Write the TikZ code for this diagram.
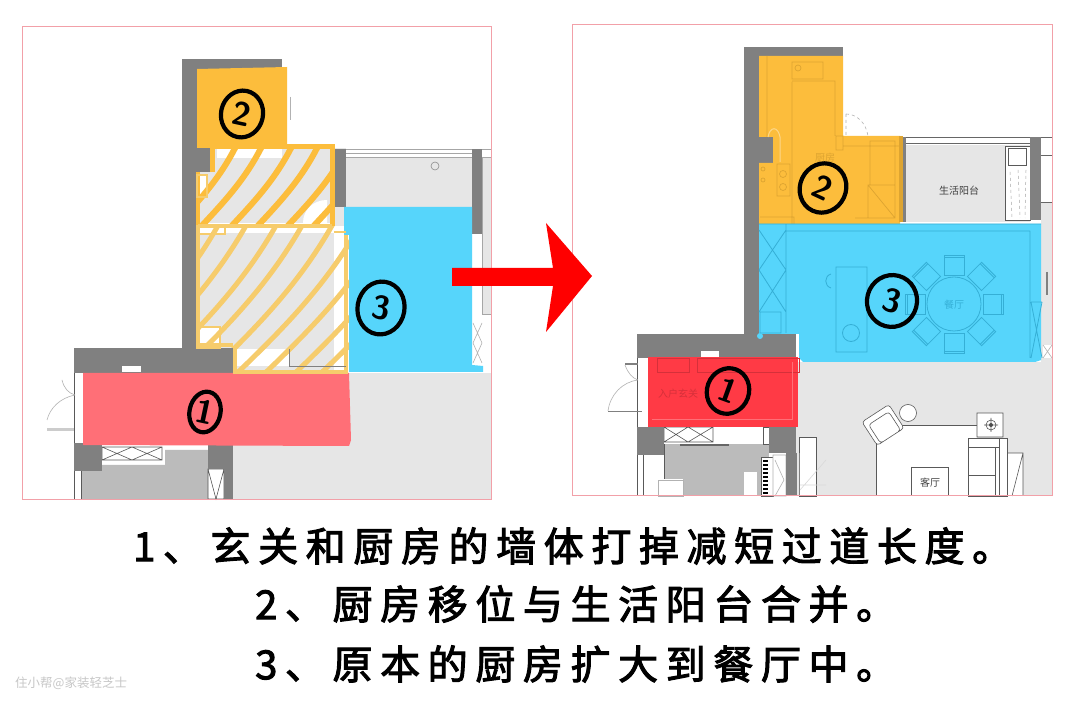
\documentclass[tikz,border=0pt]{standalone}
\usepackage{fontspec}
\usepackage{xcolor}
\usetikzlibrary{calc,shapes.geometric,positioning}
\newfontfamily\cjk[LetterSpace=19,FakeBold=2.5]{Noto Sans CJK SC}
\newfontfamily\cjkplain{Noto Sans CJK SC}
\definecolor{wallgray}{HTML}{808080}
\definecolor{floorgray}{HTML}{E6E6E6}
\definecolor{roomgray}{HTML}{BBBBBB}
\definecolor{framepink}{HTML}{F2A0A8}
\definecolor{kitchen}{HTML}{FCBD3C}
\definecolor{kitchenline}{HTML}{DDA431}
\definecolor{hatchlight}{HTML}{F6CC6C}
\definecolor{dining}{HTML}{56D5FB}
\definecolor{diningline}{HTML}{35AFD6}
\definecolor{hallpale}{HTML}{FF6F77}
\definecolor{hallred}{HTML}{FF3A45}
\definecolor{hallline}{HTML}{D5303A}
\tikzset{
  wall/.style={fill=wallgray,draw=none},
  framebox/.style={draw=framepink,line width=1pt},
  fineline/.style={draw=black!65,line width=.6pt},
  paleline/.style={draw=black!30,line width=.6pt},
  kitline/.style={draw=kitchenline,line width=.7pt},
  dinline/.style={draw=diningline,line width=.8pt},
  numbermark/.style={ellipse,draw=black,line width=4.2pt,inner sep=0pt,font=\sffamily\bfseries\fontsize{33}{33}\selectfont},
  captionline/.style={anchor=west,inner sep=0pt,font=\cjk\fontsize{40}{40}\selectfont},
  planlabel/.style={inner sep=0pt,text=black!75,font=\cjkplain\fontsize{10}{10}\selectfont},
}
\begin{document}
\begin{tikzpicture}[x=1pt,y=-1pt,line cap=butt,line join=miter]
\useasboundingbox (0,0) rectangle (1080,708);
\fill[white] (0,0) rectangle (1080,708);
% left plan
\fill[floorgray] (346,158) rectangle (472,207); \fill[floorgray] (233,373) rectangle (491,499); \fill[floorgray] (482,157) rectangle (491,314);
\fill[floorgray] (197,148) rectangle (346,373);
\fill[white] (197,223) rectangle (334,233); \fill[white] (233,349) rectangle (290,366); \fill[white] (334,226) rectangle (346,373); \fill[white] (217,149) rectangle (282,158);
\fill[white] (327,223) -- (303,223) .. controls (303,210) and (313,200) .. (327,200) -- cycle;
\fill[white] (197,175) rectangle (207,197); \fill[white] (197,327) rectangle (220,348);
\fill[roomgray] (81,465) -- (165,465) -- (165,450) -- (208,450) -- (208,499) -- (81,499) -- cycle;
\draw[fineline] (102,447) rectangle (162,460) (102,447) -- (132,460) -- (162,447) (102,460) -- (132,447) -- (162,460) (208,469) rectangle (224,499) (208,469) -- (216,499) -- (224,469);
\draw[fineline] (74,443) -- (74,373) (74,471) -- (74,499) (81,471) -- (81,499);
\draw[paleline] (75,395) .. controls (60,398) and (50,408) .. (47,420) (62,380) .. controls (64,388) and (68,393) .. (75,395); \draw[black!20,line width=3pt] (47,430) -- (74,430); \draw[paleline] (290,97) -- (290,120);
\draw[black!35,line width=.7pt] (346,149) -- (472,149) (346,153) -- (472,153) (346,157) -- (472,157) (482,149) -- (491,149) (482,157) -- (491,157) (482,157) -- (482,314) -- (491,314);
\draw[black!45,line width=.6pt] (435,166) circle[radius=4];
\draw[paleline] (473,323) -- (482,343) -- (473,363) (482,323) -- (473,343) -- (482,363);
\fill[wall] (182,59) rectangle (282,70); \fill[wall] (182,59) rectangle (197,348); \fill[wall] (197,148) rectangle (212,172); \fill[wall] (74,348) rectangle (233,373);
\fill[wall] (74,443) rectangle (102,471); \fill[wall] (208,443) rectangle (233,469); \fill[wall] (224,469) rectangle (233,499);
\fill[wall] (334,149) rectangle (346,207); \fill[wall] (472,149) rectangle (482,234);
\fill[white] (122,366) rectangle (141,372);
\fill[dining] (344,207) -- (472,207) -- (472,365) -- (483,366) -- (483,372) -- (349,372) -- (349,235) -- (344,235) -- cycle;
\fill[hallpale] (83,373) -- (349,373) -- (351,440) -- (349,446) -- (83,445) -- cycle;
\fill[kitchen] (197,69) -- (287,67) -- (287,148) -- (197,148) -- cycle;
% hatched kitchen
\begin{scope}
\clip (212,147) -- (334,147) -- (334,226) -- (197,226) -- (197,172) -- (212,172) -- cycle;
\foreach \hx in {140,170,196,226,252,282,308,336}{\draw[kitchen,line width=6pt] (\hx,232) .. controls (\hx+25,205) and (\hx+50,180) .. (\hx+68,142);}
\end{scope}
\begin{scope}
\clip (197,226) -- (349,226) -- (349,372) -- (233,372) -- (233,348) -- (197,348) -- cycle;
\foreach \hx in {90,118,148,174,204,232,260,290,316}{\draw[hatchlight,line width=5pt] (\hx,378) .. controls (\hx+50,330) and (\hx+95,285) .. (\hx+130,222);}
\end{scope}
\draw[kitchen,line width=5pt] (212,172) -- (212,147) -- (332,147) -- (332,226);
\draw[kitchen,line width=4pt] (198,172) -- (198,226);
\draw[hatchlight,line width=4pt] (198,226) -- (198,345) (198,226) -- (332,226) (346,235) -- (346,372) -- (235,372) -- (235,348) (198,345) -- (233,345);
\draw[hatchlight,line width=2pt] (197,226) rectangle (225,234) (334,232) -- (346,232) (197,327) rectangle (220,348) (197,175) rectangle (207,197);
\draw[black!50,line width=.5pt] (289,349) -- (289,366) -- (346,366);
\node[numbermark,minimum width=42pt,minimum height=47pt,rotate=-12] (leftTwo) at (242,114) {2};
\node[numbermark,minimum width=31pt,minimum height=41pt,rotate=-12] (leftOne) at (205,412) {1};
\node[numbermark,minimum width=47pt,minimum height=53pt,rotate=-10] (leftThree) at (381,308) {3};
% right plan
\fill[floorgray] (906,145) rectangle (1030,222); \fill[floorgray] (796,362) rectangle (1052,496); \fill[floorgray] (1041,202) rectangle (1052,362);
\draw[black!60,line width=.7pt] (906,137) -- (1030,137) (906,143) -- (1030,143) (1041,137) -- (1052,137) (1041,155) -- (1052,155) (1041,202) -- (1052,202);
\fill[white] (1005,146) rectangle (1030,220); \draw[fineline] (1005,146) rectangle (1030,220) (1008,148) rectangle (1026,165);
\draw[black!35,dashed,line width=.5pt] (1010,172) -- (1012,218) (1018,170) -- (1020,218) (1026,170) -- (1025,218);
\draw[black!50,line width=1.4pt] (1047,272) -- (1047,295);
\fill[white] (1043,345) rectangle (1052,358); \draw[paleline] (1043,345) -- (1052,358) (1052,345) -- (1043,358);
\node[planlabel] (balconyLabel) at (959,191) {生活阳台};
\fill[roomgray] (664,444) rectangle (769,496);
\draw[fineline] (664,427) rectangle (713,442) (664,427) -- (688,442) -- (713,427) (664,442) -- (688,427) -- (713,442);
\draw[black!60,line width=1.5pt] (680,445) -- (729,445);
\draw[fineline] (664,444) -- (664,496) (637,455) -- (637,496) (643,455) -- (643,496) (637,358) -- (637,427) (763,427) rectangle (769,444);
\fill[white] (744,472) rectangle (757,496); \fill[white] (664,479) rectangle (683,496); \draw[paleline] (658,480) rectangle (683,496);
\fill[white] (761,457) rectangle (773,496); \draw[fineline] (761,457) rectangle (773,496);
\foreach \ky in {460,464,...,494}{\fill[black] (763,\ky) rectangle (768,\ky+2);}
\fill[white] (773,455) rectangle (786,496); \draw[paleline] (773,455) rectangle (786,496) (775,460) -- (784,480) -- (775,496);
\fill[white] (799,437) rectangle (816,496); \draw[fineline] (799,437) rectangle (816,496); \draw[black!50,line width=1pt] (796,453) -- (796,496) (799,453) -- (799,496);
\draw[black!15,line width=.6pt] (800,490) -- (826,460) (800,485) -- (826,485);
\draw[paleline] (638,380) .. controls (622,382) and (610,395) .. (608,411) (625,365) .. controls (628,373) and (632,378) .. (638,380); \draw[black!50,line width=1.6pt] (608,411.5) -- (642,411.5) (625,364) -- (638,364);
% living room furniture
\fill[white] (876,425) -- (977,425) -- (977,496) -- (876,496) -- cycle; \draw[fineline] (876,496) -- (876,443) (895,425) -- (977,425);
\fill[white] (1007,453) rectangle (1023,496); \draw[fineline] (1007,453) -- (1023,453) -- (1023,496) (1023,453) -- (1012,496);
\fill[white] (968,438) rectangle (1007,496); \draw[fineline] (968,447) rectangle (999,496) (968,438) rectangle (999,447) (999,438) rectangle (1007,496) (968,475) -- (995,475) (995,447) -- (995,496);
\fill[white] (977,413) rectangle (1003,437); \draw[fineline] (977,413) rectangle (1003,437) (991,425) circle[radius=5] (991,418) -- (991,432) (984,425) -- (998,425);
\fill[black!70] (991,425) circle[radius=2];
\fill[white] (911,467) rectangle (948,496); \draw[fineline] (911,467) -- (911,496) (911,467) -- (948,467) -- (948,496);
\node[planlabel] (livingLabel) at (930,483) {客厅};
\begin{scope}[shift={(883,425)},rotate=33]
\fill[white,rounded corners=3pt] (-16,-14) rectangle (16,14); \draw[fineline,rounded corners=3pt] (-16,-14) rectangle (16,14) (-12,-8) rectangle (12,14);
\end{scope}
\draw[fineline,fill=white] (908,413) circle[radius=8.5];
% right plan walls
\fill[wall] (744,47) rectangle (843,56); \fill[wall] (744,47) rectangle (759,334); \fill[wall] (759,137) rectangle (773,163); \fill[wall] (637,334) rectangle (796,358);
\fill[wall] (637,427) rectangle (664,455); \fill[wall] (769,427) rectangle (796,453); \fill[wall] (786,453) rectangle (796,496);
\fill[wall] (899,137) rectangle (906,222); \fill[wall] (1030,137) rectangle (1041,220);
\fill[white] (701,351) rectangle (719,357);
% right kitchen
\fill[kitchen] (759,56) -- (843,56) -- (843,136) -- (900,136) -- (900,224) -- (759,224) -- (759,163) -- (773,163) -- (773,137) -- (759,137) -- cycle;
\draw[kitline] (767,56) -- (767,137) (792,82) -- (792,224) (792,81) -- (835,81) -- (835,136) (792,62) rectangle (823,79) (777,164) rectangle (790,196) (843,146) -- (900,146) (870,141) rectangle (895,185) (868,185) rectangle (895,218) (868,185) -- (895,218) (855,218) -- (888,218) (760,217) -- (794,217) -- (794,224) (836,136) rectangle (843,150);
\draw[kitline] (783,174) circle[radius=3.5] (783,187) circle[radius=3.5] (763,169) circle[radius=2] (763,180) circle[radius=2] (798,68) circle[radius=3];
\draw[kitchen!60!white,line width=1pt] (768,137) .. controls (770,126) and (778,126) .. (780,137) -- (780,162);
\fill[kitchenline] (899,136) rectangle (903,222);
\draw[paleline,dashed] (846,114) .. controls (856,114) and (866,122) .. (868,136) (846,114) -- (846,136);
\node[planlabel,text=kitchenline] (kitchenLabel) at (825,158) {厨房};
% right dining
\fill[white] (796,334) rectangle (799,358);
\fill[dining] (759,224) -- (1041,224) -- (1041,360) -- (1035,362) -- (803,362) -- (799,358) -- (799,334) -- (759,334) -- cycle;
\fill[dining] (760,336) circle[radius=3];
\draw[dinline] (759,224) -- (1041,224) (786,224) -- (786,333) (786,231) -- (1030,231) (1030,231) -- (1030,358) (760,312) rectangle (781,333) (759,230) -- (786,270) (786,230) -- (759,270) (759,270) -- (786,312) (786,270) -- (759,312) (1031,302) -- (1042,358) (1042,302) -- (1031,358) (1031,302) -- (1042,302);
\draw[dinline] (836,267) rectangle (867,352) (851,333) circle[radius=8.5] (954,304) circle[radius=27];
\foreach \ca in {0,45,...,315}{
\begin{scope}[shift={(954,304)},rotate=\ca]
\draw[dinline] (29,-10) rectangle (49,10) (47,-10) -- (47,10);
\end{scope}}
\draw[dinline] (831,274) .. controls (824,276) and (824,286) .. (831,288);
\node[planlabel,text=diningline] (diningLabel) at (954,305) {餐厅};
% right hall
\fill[hallred] (648,357) -- (798,357) -- (798,427) -- (648,427) -- cycle;
\draw[hallline,line width=.6pt] (657,358) rectangle (689,372) (697,358) rectangle (799,372);
\draw[hallpale,line width=.6pt] (652,419) -- (792,419) -- (792,362);
\node[planlabel,text=hallline] (hallLabel) at (678,394) {入户玄关};
\node[numbermark,minimum width=42pt,minimum height=46pt,rotate=-20] (rightOne) at (728,391) {1};
\node[numbermark,minimum width=46pt,minimum height=50pt,rotate=-25] (rightTwo) at (823,188) {2};
\node[numbermark,minimum width=50pt,minimum height=52pt,rotate=-15] (rightThree) at (892,301) {3};
% frames
\draw[framebox] (22,27) rectangle (491,500); \draw[framebox] (572,25) rectangle (1052,496);
% arrow
\fill[red] (452,268) -- (553,268) -- (546,223) -- (592,276) -- (546,332) -- (553,286) -- (452,286) -- cycle;
% captions
\node[captionline] (lineOne) at (133,546) {1、玄关和厨房的墙体打掉减短过道长度。};
\node[captionline] (lineTwo) at (255,604) {2、厨房移位与生活阳台合并。};
\node[captionline] (lineThree) at (255,664) {3、原本的厨房扩大到餐厅中。};
\node[inner sep=0pt,anchor=west,text=black!22,font=\cjkplain\fontsize{12.5}{12.5}\selectfont] (markText) at (15,683) {住小帮@家装轻芝士};
\end{tikzpicture}
\end{document}
